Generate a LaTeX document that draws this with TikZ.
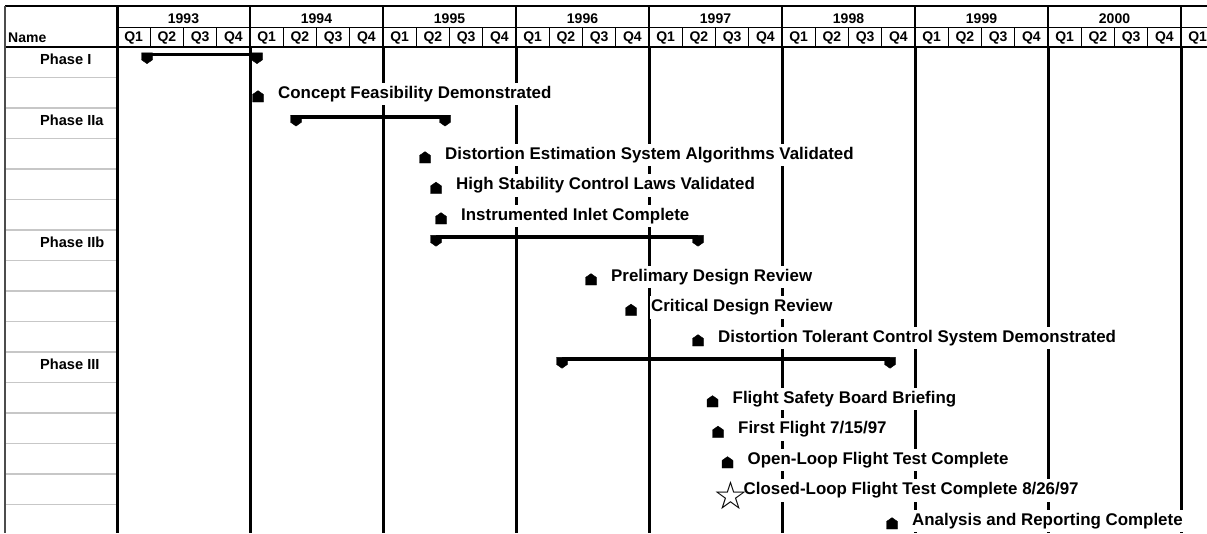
\documentclass[tikz,border=0pt]{standalone}
\usepackage{fontspec}
\setmainfont{Liberation Sans}
\newfontfamily\symfont{DejaVu Sans}
\usetikzlibrary{shapes.symbols}

\begin{document}
\begin{tikzpicture}[x=1pt,y=1pt,
    hdr/.style={font=\bfseries\fontsize{14}{15}\selectfont,inner sep=0pt},
    phase/.style={font=\bfseries\fontsize{14.6}{16}\selectfont,anchor=west,inner sep=0pt},
    msl/.style={font=\bfseries\fontsize{16.9}{18}\selectfont,anchor=base west,fill=white,
        inner xsep=1pt,inner ysep=2.5pt,text height=13pt,text depth=4.5pt},
    mile/.style={signal,signal to=north,signal pointer angle=110,fill=black,draw=black,
        line width=0.4pt,minimum width=11pt,minimum height=7.5pt,inner sep=0pt},
    barend/.style={signal,signal to=south,signal pointer angle=110,fill=black,draw=black,
        line width=0.4pt,minimum width=11pt,minimum height=7pt,inner sep=0pt,anchor=north},
    bar/.style={line width=3.7pt},
    yearline/.style={line width=3pt},
    rowline/.style={draw=black!22,line width=1.5pt}]
    \useasboundingbox (0,0) rectangle (1207,-533);

    % header frame
    \draw[line width=1.5pt] (5,-6) -- (1207,-6);
    \draw[line width=1pt] (117,-27) -- (1207,-27);
    \draw[line width=1.5pt] (5,-47) -- (1207,-47);
    \draw[line width=1.8pt,draw=black!70] (5,-6) -- (5,-533);
    \foreach \i in {1,...,32}
        \draw[line width=1pt] ({117+33.25*\i},-27) -- ({117+33.25*\i},-47);
    \foreach \j in {1,...,8}
        \draw[line width=1.2pt] ({117+133*\j},-6) -- ({117+133*\j},-47);
    \draw[yearline] (117,-6) -- (117,-533);
    \foreach \j in {1,...,8}
        \draw[yearline] ({117+133*\j},-47) -- ({117+133*\j},-533);
    \foreach \k in {1,...,15}
        \draw[rowline] (6,{-47-30.5*\k}) -- (116,{-47-30.5*\k});

    % years and quarters
    \node[hdr,anchor=west] (name) at (8,-38) {Name};
    \foreach \yr [count=\j from 0] in {1993,1994,1995,1996,1997,1998,1999,2000}
        \node[hdr] (y\yr) at ({117+133*(\j+0.5)},-19) {\yr};
    \foreach \i in {0,...,32}{
        \pgfmathtruncatemacro\q{mod(\i,4)+1}
        \node[hdr] (q\i) at ({117+33.25*(\i+0.5)},-38) {Q\q};
    }

    % phases
    \node[phase] (ph1) at (40,-59.5) {Phase I};
    \node[phase] (ph2a) at (40,-120.5) {Phase IIa};
    \node[phase] (ph2b) at (40,-242.5) {Phase IIb};
    \node[phase] (ph3) at (40,-364.5) {Phase III};

    \node[barend] (p1a) at (147,-52.6) {};
    \node[barend] (p1b) at (257,-52.6) {};
    \draw[bar] ([yshift=-1.85pt]p1a.north) -- ([yshift=-1.85pt]p1b.north);
    \node[barend] (p2aa) at (296,-115) {};
    \node[barend] (p2ab) at (445,-115) {};
    \draw[bar] ([yshift=-1.85pt]p2aa.north) -- ([yshift=-1.85pt]p2ab.north);
    \node[barend] (p2ba) at (436,-235.2) {};
    \node[barend] (p2bb) at (698,-235.2) {};
    \draw[bar] ([yshift=-1.85pt]p2ba.north) -- ([yshift=-1.85pt]p2bb.north);
    \node[barend] (p3a) at (562,-357.2) {};
    \node[barend] (p3b) at (890,-357.2) {};
    \draw[bar] ([yshift=-1.85pt]p3a.north) -- ([yshift=-1.85pt]p3b.north);

    % milestones
    \node[mile] (m1) at (258,-98.25) {};
    \node[msl] (l1) at ([xshift=19pt]m1.center) {Concept Feasibility Demonstrated};
    \node[mile] (m2) at (425,-159.25) {};
    \node[msl] (l2) at ([xshift=19pt]m2.center) {Distortion Estimation System Algorithms Validated};
    \node[mile] (m3) at (436,-189.75) {};
    \node[msl] (l3) at ([xshift=19pt]m3.center) {High Stability Control Laws Validated};
    \node[mile] (m4) at (441,-220.25) {};
    \node[msl] (l4) at ([xshift=19pt]m4.center) {Instrumented Inlet Complete};
    \node[mile] (m5) at (591,-281.25) {};
    \node[msl] (l5) at ([xshift=19pt]m5.center) {Prelimary Design Review};
    \node[mile] (m6) at (631,-311.75) {};
    \node[msl] (l6) at ([xshift=19pt]m6.center) {Critical Design Review};
    \node[mile] (m7) at (698,-342.25) {};
    \node[msl] (l7) at ([xshift=19pt]m7.center) {Distortion Tolerant Control System Demonstrated};
    \node[mile] (m8) at (712.5,-403.25) {};
    \node[msl] (l8) at ([xshift=19pt]m8.center) {Flight Safety Board Briefing};
    \node[mile] (m9) at (718,-433.75) {};
    \node[msl] (l9) at ([xshift=19pt]m9.center) {First Flight 7/15/97};
    \node[mile] (m10) at (727.5,-464.25) {};
    \node[msl] (l10) at ([xshift=19pt]m10.center) {Open-Loop Flight Test Complete};
    \node[msl] (l11) at (742.5,-494.75) {Closed-Loop Flight Test Complete 8/26/97};
    \node[font=\symfont\fontsize{39}{39}\selectfont,inner sep=0pt] (m11) at (730.5,-495) {☆};
    \node[mile] (m12) at (892,-525.25) {};
    \node[msl] (l12) at ([xshift=19pt]m12.center) {Analysis and Reporting Complete};
\end{tikzpicture}
\end{document}
